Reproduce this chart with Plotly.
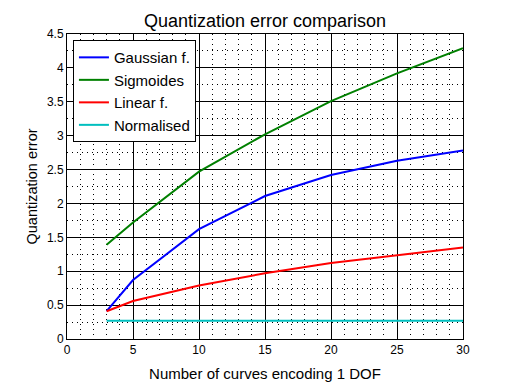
import plotly.graph_objects as go

x_vals = [3, 5, 10, 15, 20, 25, 30]
gaussian = [0.41, 0.87, 1.62, 2.11, 2.42, 2.63, 2.78]
sigmoides = [1.39, 1.72, 2.47, 3.02, 3.51, 3.92, 4.29]
linear = [0.41, 0.56, 0.79, 0.97, 1.12, 1.24, 1.35]
normalised = [0.27, 0.27, 0.27, 0.27, 0.27, 0.27, 0.27]

names = ["Gaussian f.", "Sigmoides", "Linear f.", "Normalised"]
colors = ["#0000ff", "#008000", "#ff0000", "#00bfbf"]
series = [gaussian, sigmoides, linear, normalised]

x_ticks = [0, 5, 10, 15, 20, 25, 30]
y_ticks = [0, 0.5, 1, 1.5, 2, 2.5, 3, 3.5, 4, 4.5]
y_tick_text = ["0", "0.5", "1", "1.5", "2", "2.5", "3", "3.5", "4", "4.5"]

FONT = "Liberation Sans, Arial, Helvetica, sans-serif"

fig = go.Figure()
for name, col, ys in zip(names, colors, series):
    fig.add_trace(go.Scatter(x=x_vals, y=ys, mode="lines", name=name,
                             line=dict(color=col, width=2)))

axis_common = dict(
    showline=True, linecolor="black", linewidth=1, mirror=True,
    showgrid=True, gridcolor="black", gridwidth=1,
    zeroline=False, ticks="inside", ticklen=4, tickcolor="black",
    tickfont=dict(family=FONT, size=12, color="black"),
)

fig.update_xaxes(range=[0, 30], tickvals=x_ticks,
                 title=dict(text="Number of curves encoding 1 DOF",
                            font=dict(family=FONT, size=15, color="black"), standoff=12),
                 minor=dict(dtick=1, showgrid=True, gridcolor="black",
                            griddash="1px,4px", gridwidth=1),
                 **axis_common)
fig.update_yaxes(range=[0, 4.5], tickvals=y_ticks, ticktext=y_tick_text,
                 title=dict(text="Quantization error",
                            font=dict(family=FONT, size=14.5, color="black"), standoff=5),
                 minor=dict(dtick=0.25, showgrid=True, gridcolor="black",
                            griddash="1px,4px", gridwidth=1),
                 **axis_common)

fig.update_layout(
    width=512, height=384,
    margin=dict(l=59, r=57, t=26, b=50),
    paper_bgcolor="white", plot_bgcolor="white",
    title=dict(text="Quantization error comparison", x=0.5, xanchor="center",
               xref="paper", yref="container", y=0.968, yanchor="middle",
               font=dict(family=FONT, size=18, color="black")),
    legend=dict(x=0.015, y=0.98, xanchor="left", yanchor="top",
                bgcolor="white", bordercolor="black", borderwidth=1,
                font=dict(family=FONT, size=15, color="black")),
    showlegend=True,
)

fig.write_html("out.html", config={"displayModeBar": False})
